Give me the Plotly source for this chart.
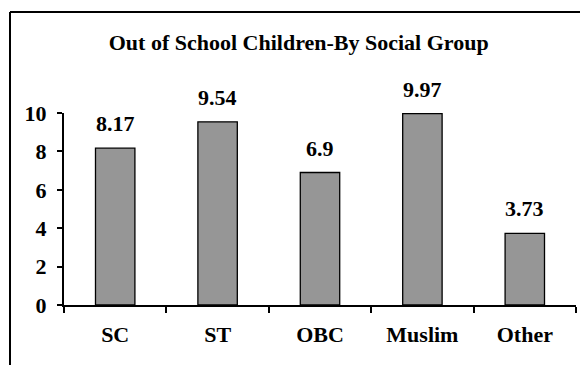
import plotly.graph_objects as go

categories = ["SC", "ST", "OBC", "Muslim", "Other"]
values = [8.17, 9.54, 6.9, 9.97, 3.73]
value_labels = ["8.17", "9.54", "6.9", "9.97", "3.73"]
y_ticks = [0, 2, 4, 6, 8, 10]
title_text = "Out of School Children-By Social Group"

FONT = "Liberation Serif"
FS = 22

fig = go.Figure()
fig.add_trace(go.Bar(
    x=categories, y=values,
    cliponaxis=False,
    marker=dict(color="#969696", line=dict(color="black", width=1.3)),
    width=0.385,
))

for c, v, t in zip(categories, values, value_labels):
    fig.add_annotation(x=c, y=v, text=f"<b>{t}</b>", showarrow=False,
                       xanchor="center", yanchor="bottom", yshift=10,
                       font=dict(family=FONT, size=FS, color="black"))

fig.update_layout(
    width=580, height=365,
    margin=dict(l=64, r=4, t=113, b=60),
    paper_bgcolor="white", plot_bgcolor="white",
    showlegend=False,
    title=dict(text=f"<b>{title_text}</b>", x=0.515, xanchor="center",
               y=1 - 42/365, yanchor="middle",
               font=dict(family=FONT, size=FS, color="black")),
    xaxis=dict(range=[-0.5, 4.5], showline=True, linecolor="black", linewidth=2,
               ticks="outside", tickson="boundaries", ticklen=6, tickwidth=2,
               tickcolor="black", showgrid=False,
               tickfont=dict(family=FONT, size=FS, color="black"),
               ticklabelstandoff=9,
               tickvals=categories, ticktext=[f"<b>{c}</b>" for c in categories]),
    yaxis=dict(range=[0, 10], showline=True, linecolor="black", linewidth=2,
               ticks="outside", ticklen=5, tickwidth=2, tickcolor="black",
               showgrid=False, zeroline=False,
               tickvals=y_ticks, ticktext=[f"<b>{v}</b>" for v in y_ticks],
               tickfont=dict(family=FONT, size=FS, color="black"),
               ticklabelstandoff=6),
    shapes=[
        dict(type="line", xref="paper", yref="paper",
             x0=(10 - 64) / 512, x1=1.1, y0=(365 - 60 - 12) / 192, y1=(365 - 60 - 12) / 192,
             line=dict(color="black", width=2)),
        dict(type="line", xref="paper", yref="paper",
             x0=(10 - 64) / 512, x1=(10 - 64) / 512, y0=(365 - 60 - 12) / 192, y1=-1,
             line=dict(color="black", width=2)),
    ],
)

fig.write_html("out.html")
